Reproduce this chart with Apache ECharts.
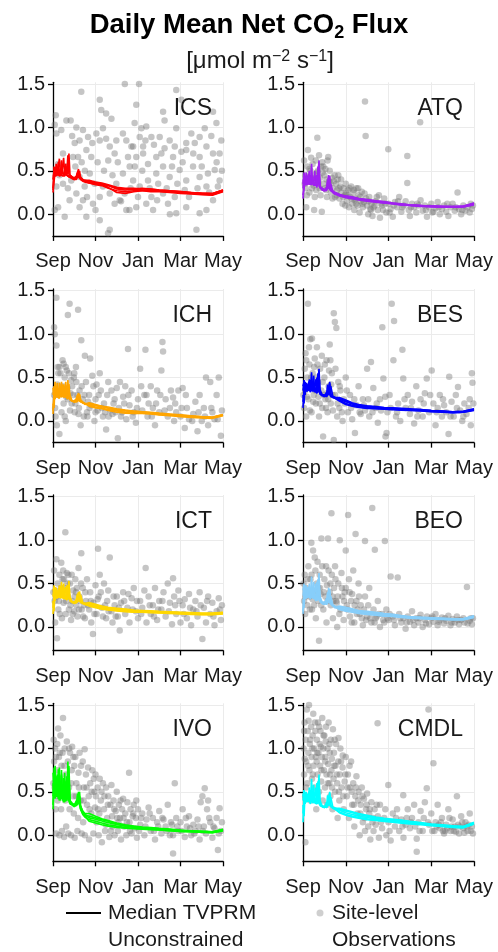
<!DOCTYPE html>
<html>
<head>
<meta charset="utf-8">
<script src="https://cdn.jsdelivr.net/npm/echarts@6/dist/echarts.min.js"></script>
<style>
  html, body { margin: 0; padding: 0; background: #ffffff; }
  #chart { width: 498px; height: 952px; }
</style>
</head>
<body>
<div id="chart"></div>
<script>
// Sites, in panel order (left-to-right, top-to-bottom)
const siteNames = ['ICS', 'ATQ', 'ICH', 'BES', 'ICT', 'BEO', 'IVO', 'CMDL'];
const siteColors = ['#ff0000', '#a020f0', '#ffa500', '#0000ff', '#ffd700', '#87cefa', '#00ff00', '#00ffff'];

// x axis: months since 1 September
const monthTicks = [0, 2, 4, 6, 8];
const monthLabels = ['Sep', 'Nov', 'Jan', 'Mar', 'May'];
// y axis: flux in umol m-2 s-1
const fluxTicks = [0, 0.5, 1.0, 1.5];
const rowFluxMin = [-0.25, -0.25, -0.27, -0.3];
const fluxMax = 1.52;

// sample months shared by every model trace
const lineMonths = [0, 0.05, 0.1, 0.15, 0.2, 0.25, 0.3, 0.35, 0.4, 0.45, 0.5, 0.55, 0.6, 0.65, 0.7, 0.75, 0.8,
  0.9, 1.0, 1.1, 1.15, 1.2, 1.25, 1.3, 1.4, 1.5,
  1.7, 2.0, 2.3, 2.6, 3.0, 3.4, 3.8, 4.2, 4.6, 5.0, 5.5, 6.0, 6.5, 7.0, 7.5, 8.0];

// ---- median TVPRM unconstrained traces (one array per ensemble member) ----
const tvprmICS = [
  [0.30,0.42,0.46,0.44,0.50,0.47,0.45,0.52,0.48,0.46,0.47,0.45,0.50,0.47,0.68,0.46,0.44, 0.43,0.42,0.44,0.43,0.52,0.44,0.42,0.40,0.39, 0.39,0.37,0.36,0.34,0.31,0.30,0.30,0.29,0.29,0.28,0.27,0.26,0.25,0.245,0.24,0.28],
  [0.25,0.38,0.48,0.45,0.55,0.46,0.44,0.46,0.62,0.47,0.45,0.46,0.44,0.45,0.46,0.44,0.43, 0.42,0.41,0.42,0.48,0.43,0.41,0.40,0.38,0.37, 0.36,0.34,0.33,0.30,0.27,0.26,0.27,0.27,0.26,0.26,0.25,0.24,0.235,0.225,0.22,0.26],
  [0.40,0.50,0.45,0.58,0.47,0.45,0.44,0.46,0.45,0.44,0.65,0.46,0.44,0.45,0.44,0.43,0.44, 0.42,0.40,0.41,0.42,0.45,0.50,0.42,0.39,0.38, 0.37,0.36,0.35,0.33,0.29,0.28,0.29,0.28,0.28,0.27,0.265,0.255,0.245,0.235,0.235,0.275],
  [0.45,0.47,0.44,0.46,0.45,0.60,0.46,0.44,0.45,0.47,0.45,0.44,0.58,0.45,0.44,0.43,0.42, 0.41,0.40,0.40,0.41,0.47,0.42,0.40,0.39,0.38, 0.36,0.35,0.34,0.31,0.25,0.24,0.26,0.27,0.27,0.265,0.26,0.25,0.24,0.23,0.225,0.265],
  [0.28,0.55,0.46,0.44,0.46,0.44,0.64,0.47,0.45,0.44,0.46,0.44,0.45,0.55,0.46,0.70,0.45, 0.43,0.41,0.42,0.44,0.49,0.43,0.41,0.40,0.39, 0.38,0.36,0.35,0.33,0.30,0.29,0.29,0.30,0.29,0.28,0.27,0.26,0.25,0.24,0.235,0.28]
];
const tvprmATQ = [
  [0.18,0.35,0.42,0.38,0.44,0.36,0.34,0.38,0.35,0.33,0.36,0.33,0.40,0.33,0.32,0.62,0.30, 0.28,0.27,0.29,0.28,0.45,0.29,0.27,0.25,0.24, 0.22,0.21,0.20,0.18,0.165,0.155,0.14,0.125,0.115,0.105,0.10,0.095,0.09,0.085,0.09,0.12],
  [0.30,0.45,0.36,0.48,0.37,0.35,0.50,0.36,0.34,0.35,0.33,0.34,0.32,0.33,0.55,0.32,0.30, 0.29,0.28,0.29,0.40,0.30,0.28,0.27,0.26,0.25, 0.23,0.20,0.185,0.17,0.155,0.145,0.13,0.12,0.11,0.10,0.095,0.09,0.085,0.08,0.085,0.11],
  [0.40,0.38,0.34,0.36,0.34,0.46,0.35,0.33,0.34,0.44,0.33,0.32,0.34,0.31,0.33,0.45,0.31, 0.29,0.28,0.27,0.29,0.38,0.30,0.35,0.26,0.24, 0.21,0.20,0.19,0.175,0.16,0.15,0.135,0.125,0.115,0.105,0.10,0.09,0.085,0.085,0.09,0.125],
  [0.22,0.30,0.40,0.37,0.35,0.38,0.34,0.45,0.36,0.34,0.35,0.50,0.34,0.32,0.35,0.40,0.31, 0.28,0.27,0.28,0.27,0.33,0.40,0.28,0.25,0.23, 0.215,0.19,0.18,0.165,0.15,0.14,0.13,0.12,0.105,0.10,0.09,0.085,0.08,0.08,0.085,0.11],
  [0.35,0.48,0.37,0.34,0.40,0.35,0.33,0.35,0.58,0.35,0.34,0.36,0.33,0.45,0.34,0.52,0.32, 0.30,0.28,0.31,0.29,0.36,0.44,0.30,0.27,0.25, 0.225,0.21,0.195,0.18,0.17,0.155,0.145,0.13,0.12,0.11,0.10,0.095,0.09,0.09,0.095,0.13]
];
const tvprmICH = [
  [0.08,0.35,0.25,0.40,0.28,0.30,0.26,0.36,0.27,0.25,0.42,0.28,0.26,0.30,0.47,0.26,0.24, 0.23,0.22,0.26,0.24,0.32,0.23,0.25,0.21,0.20, 0.20,0.18,0.17,0.15,0.13,0.12,0.11,0.105,0.095,0.085,0.075,0.065,0.055,0.045,0.04,0.07],
  [0.20,0.15,0.42,0.30,0.35,0.28,0.44,0.29,0.27,0.38,0.28,0.26,0.45,0.28,0.26,0.43,0.25, 0.23,0.22,0.23,0.30,0.24,0.26,0.22,0.21,0.20, 0.17,0.15,0.14,0.12,0.10,0.09,0.085,0.085,0.08,0.07,0.06,0.05,0.04,0.035,0.03,0.06],
  [0.30,0.40,0.26,0.30,0.44,0.29,0.27,0.40,0.28,0.26,0.33,0.27,0.25,0.40,0.27,0.25,0.30, 0.23,0.22,0.22,0.25,0.28,0.31,0.24,0.21,0.19, 0.21,0.19,0.17,0.16,0.14,0.125,0.115,0.105,0.10,0.09,0.08,0.07,0.06,0.05,0.045,0.075],
  [0.12,0.28,0.36,0.27,0.31,0.38,0.28,0.30,0.45,0.28,0.26,0.30,0.35,0.26,0.32,0.38,0.24, 0.23,0.22,0.24,0.23,0.27,0.25,0.23,0.21,0.20, 0.18,0.16,0.15,0.13,0.115,0.10,0.095,0.09,0.085,0.075,0.07,0.06,0.05,0.04,0.035,0.065],
  [0.38,0.30,0.45,0.29,0.33,0.27,0.32,0.28,0.36,0.42,0.27,0.25,0.29,0.27,0.25,0.36,0.26, 0.23,0.23,0.25,0.22,0.25,0.30,0.24,0.22,0.20, 0.19,0.175,0.165,0.145,0.125,0.115,0.105,0.10,0.09,0.08,0.07,0.06,0.05,0.045,0.04,0.07]
];
const tvprmBES = [
  [0.15,0.38,0.30,0.44,0.34,0.36,0.46,0.34,0.33,0.40,0.34,0.32,0.48,0.33,0.32,0.60,0.31, 0.30,0.28,0.33,0.30,0.38,0.45,0.30,0.28,0.27, 0.26,0.23,0.20,0.18,0.17,0.16,0.15,0.145,0.14,0.135,0.13,0.12,0.115,0.105,0.11,0.135],
  [0.30,0.20,0.45,0.36,0.42,0.35,0.34,0.47,0.35,0.33,0.52,0.34,0.32,0.40,0.55,0.33,0.31, 0.30,0.29,0.30,0.42,0.31,0.36,0.29,0.27,0.26, 0.23,0.19,0.17,0.155,0.145,0.14,0.135,0.13,0.125,0.12,0.115,0.105,0.10,0.095,0.10,0.12],
  [0.40,0.45,0.33,0.38,0.34,0.44,0.36,0.33,0.46,0.34,0.32,0.37,0.33,0.50,0.34,0.32,0.36, 0.30,0.30,0.29,0.32,0.36,0.32,0.40,0.28,0.27, 0.27,0.24,0.21,0.19,0.175,0.165,0.155,0.15,0.145,0.14,0.13,0.12,0.115,0.105,0.11,0.14],
  [0.22,0.32,0.42,0.35,0.33,0.40,0.48,0.35,0.34,0.36,0.43,0.33,0.36,0.32,0.45,0.40,0.31, 0.29,0.28,0.29,0.28,0.33,0.31,0.28,0.27,0.26, 0.24,0.20,0.18,0.165,0.155,0.145,0.14,0.135,0.13,0.125,0.12,0.11,0.105,0.095,0.10,0.125],
  [0.35,0.47,0.38,0.34,0.41,0.35,0.33,0.38,0.56,0.35,0.33,0.36,0.34,0.32,0.36,0.52,0.32, 0.30,0.29,0.28,0.30,0.31,0.43,0.31,0.28,0.27, 0.25,0.22,0.195,0.175,0.16,0.15,0.145,0.14,0.135,0.13,0.125,0.115,0.11,0.10,0.105,0.13]
];
const tvprmICT = [
  [0.15,0.40,0.30,0.45,0.33,0.35,0.44,0.33,0.32,0.38,0.32,0.31,0.46,0.32,0.31,0.53,0.30, 0.29,0.28,0.32,0.30,0.40,0.30,0.29,0.28,0.27, 0.27,0.25,0.23,0.22,0.21,0.20,0.19,0.185,0.18,0.175,0.17,0.165,0.16,0.155,0.155,0.165],
  [0.30,0.18,0.46,0.35,0.42,0.34,0.33,0.47,0.34,0.32,0.50,0.33,0.31,0.38,0.48,0.32,0.30, 0.29,0.28,0.29,0.38,0.30,0.34,0.29,0.27,0.26, 0.24,0.22,0.205,0.195,0.185,0.175,0.17,0.17,0.165,0.16,0.155,0.15,0.145,0.14,0.14,0.15],
  [0.42,0.45,0.32,0.37,0.33,0.43,0.34,0.32,0.44,0.33,0.31,0.36,0.32,0.48,0.33,0.31,0.35, 0.29,0.29,0.28,0.31,0.35,0.31,0.37,0.28,0.27, 0.28,0.26,0.24,0.225,0.215,0.205,0.195,0.19,0.185,0.18,0.175,0.17,0.165,0.16,0.16,0.17],
  [0.22,0.33,0.44,0.34,0.32,0.39,0.48,0.34,0.33,0.35,0.42,0.32,0.35,0.31,0.44,0.38,0.30, 0.28,0.27,0.28,0.27,0.32,0.30,0.28,0.27,0.26, 0.25,0.23,0.215,0.20,0.19,0.18,0.175,0.175,0.17,0.165,0.16,0.155,0.15,0.145,0.145,0.155],
  [0.35,0.48,0.37,0.33,0.40,0.34,0.32,0.37,0.52,0.34,0.32,0.35,0.33,0.31,0.35,0.50,0.31, 0.29,0.28,0.28,0.29,0.30,0.41,0.30,0.28,0.27, 0.26,0.24,0.225,0.21,0.20,0.19,0.185,0.18,0.175,0.17,0.165,0.16,0.155,0.15,0.15,0.16]
];
const tvprmBEO = [
  [0.18,0.45,0.33,0.48,0.36,0.34,0.47,0.33,0.31,0.42,0.32,0.30,0.50,0.32,0.30,0.62,0.29, 0.27,0.26,0.33,0.29,0.45,0.28,0.26,0.24,0.23, 0.23,0.215,0.20,0.18,0.17,0.16,0.15,0.14,0.125,0.115,0.11,0.105,0.10,0.095,0.095,0.125],
  [0.32,0.22,0.48,0.36,0.46,0.35,0.33,0.45,0.34,0.32,0.52,0.33,0.30,0.40,0.55,0.31,0.29, 0.28,0.27,0.29,0.40,0.30,0.40,0.27,0.25,0.24, 0.20,0.18,0.17,0.155,0.145,0.135,0.125,0.12,0.11,0.10,0.095,0.09,0.085,0.08,0.08,0.11],
  [0.42,0.50,0.32,0.36,0.33,0.45,0.35,0.32,0.46,0.33,0.31,0.37,0.32,0.52,0.32,0.30,0.35, 0.28,0.29,0.27,0.32,0.37,0.29,0.35,0.25,0.23, 0.24,0.225,0.21,0.19,0.18,0.17,0.155,0.145,0.13,0.12,0.11,0.105,0.10,0.095,0.095,0.13],
  [0.15,0.34,0.44,0.35,0.33,0.40,0.50,0.35,0.33,0.34,0.44,0.32,0.35,0.31,0.46,0.40,0.30, 0.27,0.26,0.28,0.27,0.34,0.32,0.27,0.24,0.22, 0.21,0.19,0.18,0.165,0.15,0.14,0.13,0.125,0.115,0.105,0.10,0.095,0.09,0.085,0.085,0.115],
  [0.36,0.48,0.39,0.33,0.42,0.34,0.32,0.37,0.58,0.34,0.32,0.35,0.33,0.30,0.35,0.52,0.31, 0.28,0.27,0.26,0.28,0.29,0.44,0.29,0.25,0.23, 0.22,0.20,0.19,0.17,0.16,0.15,0.14,0.13,0.12,0.11,0.105,0.10,0.095,0.09,0.09,0.12]
];
const tvprmIVO = [
  [0.35,0.78,0.55,0.45,0.70,0.50,0.42,0.62,0.48,0.40,0.55,0.72,0.45,0.40,0.85,0.42,0.38, 0.36,0.34,0.40,0.36,0.50,0.35,0.30,0.26,0.24, 0.22,0.20,0.18,0.16,0.13,0.11,0.10,0.09,0.085,0.075,0.065,0.055,0.05,0.045,0.04,0.065],
  [0.60,0.45,0.80,0.52,0.45,0.65,0.47,0.40,0.75,0.45,0.38,0.50,0.42,0.68,0.44,0.39,0.36, 0.35,0.33,0.35,0.48,0.36,0.40,0.30,0.25,0.22, 0.16,0.14,0.12,0.105,0.09,0.08,0.075,0.07,0.065,0.06,0.05,0.045,0.04,0.035,0.03,0.05],
  [0.30,0.55,0.42,0.68,0.50,0.42,0.78,0.48,0.42,0.52,0.44,0.38,0.62,0.42,0.55,0.80,0.40, 0.37,0.35,0.34,0.37,0.45,0.38,0.33,0.28,0.25, 0.25,0.22,0.19,0.17,0.14,0.12,0.105,0.095,0.09,0.08,0.07,0.06,0.05,0.045,0.04,0.07],
  [0.72,0.50,0.62,0.44,0.58,0.46,0.40,0.52,0.70,0.44,0.40,0.46,0.55,0.40,0.48,0.62,0.37, 0.35,0.33,0.36,0.34,0.42,0.45,0.30,0.24,0.21, 0.18,0.16,0.14,0.12,0.105,0.09,0.08,0.075,0.07,0.06,0.055,0.045,0.04,0.035,0.03,0.055],
  [0.45,0.65,0.48,0.58,0.44,0.76,0.52,0.44,0.50,0.42,0.66,0.44,0.39,0.56,0.42,0.70,0.38, 0.36,0.35,0.38,0.35,0.38,0.50,0.34,0.27,0.23, 0.20,0.185,0.165,0.145,0.125,0.105,0.09,0.085,0.08,0.07,0.06,0.05,0.045,0.04,0.035,0.06]
];
const tvprmCMDL = [
  [0.15,0.45,0.36,0.50,0.40,0.38,0.50,0.38,0.36,0.45,0.37,0.35,0.55,0.36,0.35,0.70,0.34, 0.33,0.32,0.38,0.34,0.42,0.50,0.34,0.32,0.31, 0.30,0.28,0.26,0.24,0.22,0.20,0.19,0.18,0.17,0.155,0.14,0.125,0.115,0.105,0.10,0.145],
  [0.35,0.22,0.50,0.40,0.48,0.39,0.37,0.52,0.38,0.36,0.58,0.37,0.35,0.45,0.62,0.36,0.34, 0.33,0.32,0.33,0.46,0.35,0.40,0.33,0.31,0.30, 0.26,0.23,0.21,0.195,0.18,0.17,0.16,0.15,0.14,0.13,0.12,0.11,0.10,0.09,0.085,0.13],
  [0.45,0.52,0.37,0.42,0.38,0.48,0.39,0.36,0.50,0.37,0.35,0.42,0.36,0.60,0.37,0.35,0.40, 0.33,0.33,0.32,0.36,0.40,0.36,0.44,0.32,0.31, 0.31,0.29,0.27,0.25,0.23,0.21,0.195,0.185,0.175,0.16,0.145,0.13,0.12,0.11,0.10,0.15],
  [0.25,0.38,0.48,0.39,0.37,0.44,0.55,0.39,0.37,0.40,0.50,0.37,0.40,0.36,0.52,0.45,0.35, 0.33,0.32,0.33,0.32,0.38,0.35,0.33,0.31,0.30, 0.27,0.24,0.22,0.205,0.19,0.18,0.17,0.16,0.15,0.14,0.13,0.115,0.105,0.095,0.09,0.13],
  [0.40,0.52,0.42,0.38,0.46,0.39,0.37,0.42,0.65,0.39,0.37,0.40,0.38,0.36,0.40,0.58,0.36, 0.34,0.33,0.32,0.34,0.35,0.48,0.35,0.32,0.31, 0.29,0.26,0.24,0.22,0.205,0.19,0.18,0.17,0.16,0.145,0.135,0.12,0.11,0.10,0.095,0.14]
];

// ---- site-level daily observations: [months since 1 Sep, flux] ----
const obsICS = [[0.13,1.14],[0.08,1.03],[0.16,0.93],[0.39,0.97],[0.63,1.08],[0.83,1.08],[1.33,1.41],[1.1,1.0],[1.25,0.85],[1.02,0.82],[1.57,0.74],[1.8,0.66],[2.2,1.32],[2.27,1.2],[2.5,1.16],[2.75,1.1],[2.35,0.99],[2.04,0.93],[2.2,0.85],[2.5,0.87],[2.67,0.78],[2.9,0.7],[3.38,1.5],[4.05,1.5],[3.92,1.26],[3.84,1.05],[4.16,0.99],[4.39,1.01],[4.63,0.89],[4.08,0.89],[3.77,0.78],[3.53,0.66],[3.92,0.66],[4.24,0.7],[4.47,0.58],[4.86,0.66],[5.18,1.18],[5.25,1.08],[5.49,0.85],[5.73,0.78],[5.8,0.99],[5.8,1.43],[6.04,1.32],[6.51,0.93],[6.67,0.82],[6.27,0.74],[6.9,0.66],[7.14,0.99],[7.53,1.18],[7.69,1.05],[7.84,0.7],[7.61,0.51],[7.29,0.47],[7.76,0.32],[7.53,0.16],[7.22,0.05],[6.9,0.01],[6.27,0.08],[5.8,0.01],[5.41,0.12],[4.9,0.16],[4.71,0.05],[4.39,0.12],[3.92,0.08],[3.45,0.05],[3.14,0.16],[2.67,-0.18],[2.59,-0.22],[2.2,-0.07],[1.88,0.12],[1.57,-0.03],[1.41,0.16],[1.1,0.24],[0.78,0.16],[0.55,-0.03],[0.24,0.08],[0.08,0.05],[0.16,0.32],[0.47,0.35],[0.86,0.39],[1.25,0.43],[1.73,0.47],[1.49,0.32],[1.96,0.35],[2.35,0.32],[2.67,0.24],[2.98,0.35],[3.29,0.47],[3.61,0.55],[3.77,0.39],[4.08,0.32],[4.47,0.39],[4.86,0.47],[5.18,0.55],[5.49,0.43],[5.96,0.51],[6.27,0.39],[6.59,0.55],[6.9,0.43],[7.22,0.32],[7.84,0.39],[6.2,0.28],[5.73,0.2],[5.18,0.24],[4.63,0.2],[3.37,0.24],[2.9,0.12],[2.2,0.2],[1.25,0.08],[6.75,-0.18],[3.69,0.78],[4.24,0.78],[2.98,0.85],[3.29,0.93],[1.18,0.66],[0.47,0.7],[0.24,0.58],[0.94,0.66],[1.41,0.97],[1.65,0.89],[5.65,0.66],[6.27,0.82],[7.22,0.78],[7.53,0.7],[7.92,0.85],[6.9,0.89],[5.25,0.76],[6.04,0.72],[5.02,0.89],
  [0.3,0.45],[0.6,0.55],[0.7,0.3],[0.9,0.9],[1.05,0.55],[1.35,0.6],[1.6,0.2],[1.85,0.82],[2.1,0.6],[2.4,0.5],[2.6,0.62],[2.8,0.45],[3.05,0.6],[3.2,0.15],[3.45,0.85],[3.65,0.3],[3.85,0.55],[4.0,0.2],[4.2,0.5],[4.35,0.85],[4.55,0.3],[4.75,0.8],[4.95,0.35],[5.1,0.7],[5.35,0.3],[5.6,0.55],[5.85,0.35],[6.1,0.6],[6.4,0.2],[6.6,0.7],[6.8,0.3],[7.0,0.55],[7.35,0.25],[7.45,0.9],[7.7,0.6],[7.95,0.5],[1.5,0.5],[2.0,0.05],[3.6,0.05],[5.5,0.0]];

const obsATQ = [[0.05,0.62],[0.1,0.45],[0.12,0.3],[0.15,0.08],[0.2,0.55],[0.23,0.74],[0.25,0.38],[0.3,0.25],[0.35,0.5],[0.38,0.65],[0.4,0.42],[0.45,0.58],[0.5,0.33],[0.52,0.05],[0.55,0.45],[0.6,0.62],[0.62,0.28],[0.67,0.88],[0.7,0.5],[0.72,0.36],[0.75,0.68],[0.8,0.42],[0.82,0.22],[0.85,0.55],[0.88,0.03],[0.9,0.6],[0.95,0.35],[1.0,0.45],[1.05,0.52],[1.08,0.28],[1.1,0.4],[1.15,0.62],[1.18,0.66],[1.2,0.33],[1.25,0.5],[1.3,0.25],[1.35,0.42],[1.4,0.3],[1.45,0.38],[1.5,0.2],[1.55,0.35],[1.6,0.28],[1.65,0.45],[1.7,0.18],[1.75,0.32],[1.8,0.25],[1.85,0.12],[1.9,0.3],[1.95,0.22],[2.0,0.35],[2.05,0.15],[2.1,0.28],[2.15,0.08],[2.2,0.2],[2.25,0.32],[2.3,0.12],[2.35,0.25],[2.4,0.05],[2.45,0.18],[2.5,0.3],[2.55,0.1],[2.6,0.22],[2.65,0.02],[2.7,0.15],[2.75,0.26],[2.8,0.08],[2.9,1.3],[2.93,0.9],[2.95,0.18],[3.0,0.1],[3.05,0.0],[3.1,0.2],[3.2,0.12],[3.25,-0.02],[3.3,0.08],[3.4,0.15],[3.5,0.05],[3.55,0.22],[3.6,-0.04],[3.7,0.1],[3.8,0.18],[3.9,0.02],[3.99,0.75],[4.0,0.12],[4.1,0.06],[4.2,-0.03],[4.3,0.14],[4.4,0.08],[4.5,0.2],[4.6,0.03],[4.7,0.1],[4.8,0.15],[4.88,0.67],[4.88,0.36],[4.95,0.05],[5.0,-0.02],[5.1,0.12],[5.2,0.08],[5.3,0.02],[5.4,0.1],[5.48,1.06],[5.5,0.16],[5.6,0.04],[5.7,0.1],[5.8,-0.03],[5.9,0.08],[6.0,0.12],[6.1,0.03],[6.2,0.07],[6.3,0.14],[6.4,0.0],[6.5,0.06],[6.6,0.1],[6.7,0.03],[6.8,-0.02],[6.9,0.08],[7.0,0.12],[7.1,0.04],[7.23,0.25],[7.3,0.06],[7.4,0.0],[7.5,0.1],[7.6,0.04],[7.7,0.08],[7.8,0.02],[7.9,0.06],[7.95,0.1],[0.3,0.52],[0.58,0.4],[0.92,0.48],[1.22,0.38],[1.62,0.4],[2.02,0.24],[2.42,0.16],[2.85,0.14],[3.15,0.06],[3.65,0.12],
  [0.08,0.35],[0.18,0.22],[0.28,0.42],[0.42,0.3],[0.55,0.2],[0.65,0.48],[0.78,0.3],[0.95,0.55],[1.02,0.3],[1.12,0.2],[1.28,0.35],[1.38,0.18],[1.48,0.45],[1.58,0.22],[1.68,0.3],[1.78,0.4],[1.88,0.2],[1.98,0.1],[2.08,0.22],[2.18,0.3],[2.28,0.18],[2.38,0.28],[2.48,0.12],[2.58,0.3],[2.68,0.2],[2.78,0.12],[2.88,0.24],[3.08,0.15],[3.18,0.05],[3.35,0.1],[3.45,0.2],[3.75,0.05],[3.85,0.12],[4.05,0.02],[4.25,0.1],[4.45,0.15],[4.65,0.08],[5.05,0.08],[5.35,0.12],[5.75,0.05],[6.05,0.02],[6.35,0.08],[6.75,0.12],[7.15,0.08],[7.45,0.05],[7.85,0.12]];

const obsICH = [[0.16,1.42],[0.78,1.35],[0.7,1.22],[1.18,1.28],[1.33,0.93],[0.08,1.0],[0.16,0.87],[0.05,1.08],[0.3,0.62],[0.35,0.55],[0.45,0.7],[0.5,0.66],[0.55,0.5],[0.6,0.62],[0.65,0.58],[0.75,0.55],[0.85,0.47],[0.9,0.4],[0.2,0.42],[0.25,0.3],[0.1,0.15],[0.12,0.05],[0.18,-0.05],[0.3,-0.15],[0.4,0.1],[0.5,0.2],[0.6,0.0],[0.7,0.25],[0.8,0.12],[0.95,0.3],[1.0,0.55],[1.05,0.2],[1.1,0.45],[1.2,0.08],[1.25,0.35],[1.3,-0.05],[1.4,0.25],[1.5,0.75],[1.55,0.45],[1.6,0.1],[1.7,0.3],[1.75,0.72],[1.8,0.18],[1.9,0.4],[1.95,0.0],[2.0,0.25],[2.1,0.12],[2.2,0.55],[2.25,0.35],[2.35,0.05],[2.4,0.2],[2.5,-0.1],[2.55,0.3],[2.6,0.45],[2.7,0.12],[2.8,0.08],[2.9,0.25],[3.0,0.38],[3.05,-0.2],[3.1,0.15],[3.2,0.05],[3.3,0.28],[3.4,0.4],[3.45,0.02],[3.53,0.83],[3.6,0.18],[3.7,0.35],[3.8,0.1],[3.9,-0.02],[4.0,0.25],[4.1,0.6],[4.2,0.12],[4.3,0.3],[4.35,0.82],[4.45,0.05],[4.5,0.2],[4.6,0.4],[4.7,0.15],[4.8,-0.05],[4.9,0.35],[5.0,0.1],[5.1,0.58],[5.15,0.91],[5.18,0.8],[5.3,0.25],[5.4,0.05],[5.5,0.15],[5.65,0.27],[5.7,0.0],[5.8,0.1],[5.9,0.35],[6.0,0.05],[6.1,0.38],[6.2,-0.08],[6.3,0.15],[6.4,0.02],[6.6,0.08],[6.7,0.22],[6.8,-0.12],[6.9,0.3],[7.0,0.0],[7.1,0.15],[7.2,0.5],[7.3,-0.05],[7.4,0.45],[7.5,0.1],[7.6,0.02],[7.7,0.3],[7.8,0.5],[7.9,-0.17],[7.95,0.12],[0.22,0.62],[0.42,0.36],[0.62,0.28],[0.82,0.32],[1.02,0.1],[1.15,0.3],[1.45,0.05],[1.65,0.22],[2.05,0.42],[2.45,0.1],[2.85,0.2],[3.25,0.1],
  [0.05,0.3],[0.25,0.55],[0.45,0.4],[0.55,0.05],[0.68,0.38],[0.88,0.2],[0.98,0.5],[1.08,0.62],[1.22,0.15],[1.35,0.4],[1.48,0.3],[1.62,0.05],[1.72,0.15],[1.85,0.52],[2.0,0.1],[2.15,0.3],[2.3,0.15],[2.62,0.05],[2.75,0.35],[2.95,0.1],[3.15,0.45],[3.35,0.2],[3.55,0.3],[3.75,0.05],[3.95,0.15],[4.15,0.4],[4.4,0.3],[4.65,0.05],[4.85,0.2],[5.05,0.3],[5.25,0.12],[5.55,0.35],[5.75,0.2],[6.05,0.15],[6.25,0.3],[6.55,0.0],[6.85,0.1],[7.15,0.05],[7.45,0.15],[7.75,0.02]];

const obsBES = [[0.05,0.15],[0.08,0.6],[0.1,0.35],[0.12,0.78],[0.15,0.05],[0.2,0.5],[0.23,1.35],[0.25,0.25],[0.3,0.65],[0.34,0.94],[0.35,0.4],[0.4,0.1],[0.45,0.55],[0.5,0.3],[0.55,0.72],[0.6,0.2],[0.65,0.85],[0.7,0.45],[0.75,0.05],[0.8,0.6],[0.85,0.35],[0.9,0.15],[0.94,-0.18],[1.0,0.5],[1.05,0.25],[1.1,0.7],[1.15,0.1],[1.2,0.4],[1.25,0.88],[1.3,0.2],[1.35,0.55],[1.44,1.24],[1.44,-0.22],[1.49,1.14],[1.5,0.3],[1.56,1.07],[1.6,0.05],[1.65,0.45],[1.7,0.15],[1.75,0.35],[1.85,0.0],[1.9,0.25],[2.0,0.5],[2.1,0.1],[2.2,0.3],[2.3,0.02],[2.43,-0.14],[2.5,0.18],[2.6,0.4],[2.7,0.08],[2.8,0.25],[2.9,0.12],[3.0,0.6],[3.1,0.05],[3.18,0.68],[3.29,0.38],[3.4,0.15],[3.5,-0.02],[3.6,0.25],[3.71,1.08],[3.76,0.49],[3.86,-0.18],[3.91,-0.14],[3.95,0.1],[4.05,0.3],[4.15,1.35],[4.23,0.7],[4.26,1.15],[4.35,0.05],[4.45,0.2],[4.55,0.0],[4.65,0.82],[4.69,0.49],[4.8,0.15],[4.9,0.3],[5.0,0.08],[5.1,0.22],[5.2,-0.03],[5.3,0.4],[5.4,0.12],[5.5,0.25],[5.6,0.05],[5.7,0.32],[5.79,0.49],[5.9,0.1],[6.02,0.58],[6.1,0.2],[6.2,-0.05],[6.3,0.15],[6.4,0.3],[6.5,0.05],[6.6,0.18],[6.7,0.1],[6.81,-0.15],[6.84,0.51],[6.95,0.22],[7.05,0.05],[7.15,0.3],[7.25,0.39],[7.35,0.12],[7.45,0.0],[7.55,0.2],[7.65,0.08],[7.75,0.15],[7.85,-0.05],[7.9,0.55],[7.93,0.44],[7.97,0.2],[0.15,0.7],[0.28,0.85],[0.42,0.95],[0.52,0.62],[0.62,0.5],[0.72,0.28],[0.88,0.75],[1.02,0.65],[1.12,0.32],[1.22,0.58],[1.32,0.42],[1.4,0.12],
  [0.02,0.3],[0.18,0.28],[0.32,0.12],[0.38,0.5],[0.48,0.22],[0.58,0.35],[0.68,0.65],[0.78,0.2],[0.92,0.45],[0.98,0.3],[1.08,0.15],[1.18,0.25],[1.28,0.7],[1.38,0.3],[1.52,0.6],[1.62,0.2],[1.72,0.4],[1.82,0.1],[1.95,0.2],[2.05,0.35],[2.25,0.15],[2.4,0.25],[2.65,0.1],[2.85,0.18],[3.05,0.25],[3.25,0.1],[3.45,0.2],[3.65,0.12],[3.85,0.28],[4.1,0.15],[4.4,0.1],[4.75,0.25],[5.05,0.15],[5.35,0.05],[5.65,0.2],[5.95,0.3],[6.25,0.1],[6.55,0.25],[6.9,0.05],[7.2,0.15],[7.5,0.05],[7.8,0.25]];

const obsICT = [[0.05,0.65],[0.08,0.3],[0.1,0.05],[0.16,0.78],[0.19,-0.13],[0.22,0.5],[0.25,0.2],[0.3,0.6],[0.35,0.38],[0.39,0.74],[0.42,0.1],[0.45,0.55],[0.5,0.28],[0.55,0.45],[0.58,1.09],[0.6,0.15],[0.65,0.62],[0.7,0.35],[0.75,0.2],[0.8,0.5],[0.85,0.08],[0.9,0.3],[0.95,0.42],[1.0,0.18],[1.05,0.55],[1.1,0.25],[1.15,0.12],[1.2,0.68],[1.25,0.35],[1.33,0.85],[1.35,0.2],[1.4,0.45],[1.5,0.1],[1.55,0.3],[1.6,0.55],[1.7,0.2],[1.75,0.4],[1.8,0.05],[1.88,-0.08],[1.9,0.28],[2.0,0.48],[2.05,0.15],[2.12,0.9],[2.15,0.35],[2.2,0.6],[2.3,0.22],[2.4,0.5],[2.5,0.1],[2.55,0.3],[2.6,0.42],[2.67,0.8],[2.75,0.18],[2.8,0.05],[2.9,0.25],[3.0,0.35],[3.05,0.12],[3.14,-0.04],[3.2,0.28],[3.3,0.4],[3.4,0.15],[3.5,0.22],[3.6,0.05],[3.7,0.33],[3.8,0.45],[3.9,0.18],[4.0,0.1],[4.1,0.3],[4.2,0.22],[4.36,0.68],[4.4,0.05],[4.5,0.35],[4.6,0.15],[4.7,0.25],[4.8,0.45],[4.9,0.08],[5.0,0.3],[5.1,0.2],[5.2,0.4],[5.3,0.12],[5.4,0.5],[5.5,0.28],[5.6,0.03],[5.65,0.56],[5.7,0.35],[5.8,0.15],[5.9,0.42],[6.0,0.05],[6.1,0.25],[6.2,0.32],[6.3,0.1],[6.4,0.38],[6.5,0.02],[6.6,0.2],[6.7,0.3],[6.8,0.12],[6.9,0.4],[7.03,-0.14],[7.1,0.22],[7.2,0.05],[7.3,0.35],[7.4,0.15],[7.5,0.28],[7.6,0.02],[7.7,0.18],[7.8,0.33],[7.9,0.08],[7.95,0.25],[0.12,0.42],[0.28,0.3],[0.48,0.65],[0.68,0.5],[0.88,0.6],[1.08,0.4],[1.28,0.3],[1.45,0.25],
  [0.02,0.4],[0.18,0.35],[0.32,0.15],[0.38,0.45],[0.52,0.55],[0.62,0.3],[0.72,0.6],[0.82,0.25],[0.92,0.15],[1.02,0.35],[1.12,0.45],[1.22,0.2],[1.32,0.5],[1.42,0.12],[1.52,0.4],[1.65,0.25],[1.78,0.3],[1.95,0.15],[2.1,0.32],[2.25,0.4],[2.35,0.12],[2.45,0.25],[2.62,0.18],[2.85,0.35],[2.95,0.12],[3.1,0.22],[3.35,0.3],[3.55,0.38],[3.75,0.2],[3.95,0.3],[4.15,0.15],[4.3,0.42],[4.55,0.25],[4.75,0.12],[4.95,0.2],[5.15,0.3],[5.45,0.18],[5.75,0.25],[5.95,0.3],[6.15,0.15],[6.45,0.22],[6.75,0.18],[6.95,0.25],[7.25,0.3],[7.55,0.12],[7.85,0.2]];

const obsBEO = [[0.05,0.3],[0.08,0.6],[0.1,0.15],[0.15,0.45],[0.2,0.25],[0.25,0.7],[0.3,0.35],[0.35,0.55],[0.39,0.97],[0.42,0.2],[0.47,0.88],[0.5,0.4],[0.55,0.8],[0.58,0.65],[0.6,0.1],[0.65,0.5],[0.7,0.3],[0.75,-0.16],[0.78,0.6],[0.8,0.45],[0.86,1.02],[0.9,0.7],[0.95,0.2],[1.0,0.55],[1.05,0.35],[1.1,0.05],[1.17,1.02],[1.2,0.65],[1.25,0.4],[1.3,0.25],[1.33,1.31],[1.35,0.6],[1.4,0.1],[1.45,0.45],[1.5,0.7],[1.55,0.3],[1.6,0.0],[1.65,0.5],[1.72,1.0],[1.75,0.2],[1.8,0.62],[1.85,0.35],[1.9,0.08],[2.0,0.88],[2.0,0.45],[2.05,0.25],[2.11,1.29],[2.15,0.55],[2.2,0.12],[2.3,0.38],[2.35,0.65],[2.4,0.05],[2.46,1.07],[2.5,0.3],[2.6,0.5],[2.65,0.15],[2.7,0.25],[2.8,0.02],[2.9,0.99],[2.9,0.35],[3.0,0.12],[3.1,0.45],[3.2,0.05],[3.24,1.37],[3.3,0.2],[3.36,0.89],[3.4,0.1],[3.5,0.3],[3.6,0.0],[3.7,0.15],[3.8,0.05],[3.83,0.99],[3.9,0.2],[4.0,0.08],[4.1,0.58],[4.2,0.12],[4.3,0.02],[4.43,0.57],[4.5,0.15],[4.6,0.05],[4.7,0.1],[4.8,-0.02],[4.9,0.12],[5.0,0.06],[5.1,0.18],[5.2,0.02],[5.3,0.1],[5.4,0.05],[5.5,0.14],[5.6,0.0],[5.7,0.08],[5.8,0.12],[5.9,0.03],[6.0,0.1],[6.1,0.06],[6.2,0.15],[6.3,0.02],[6.4,0.08],[6.5,0.11],[6.6,0.04],[6.7,0.07],[6.8,0.13],[6.9,0.02],[7.0,0.09],[7.1,0.05],[7.2,0.12],[7.3,0.03],[7.4,0.08],[7.5,0.1],[7.67,0.46],[7.7,0.04],[7.8,0.07],[7.9,0.03],[7.95,0.1],[0.45,0.32],[0.62,0.42],[0.82,0.38],[1.12,0.48],[1.38,0.35],[1.58,0.28],[1.95,0.4],[2.25,0.3],[2.55,0.2],[2.95,0.08],[3.45,0.12],[3.95,0.1],
  [0.02,0.5],[0.12,0.35],[0.22,0.55],[0.32,0.2],[0.4,0.6],[0.52,0.25],[0.68,0.75],[0.72,0.45],[0.85,0.25],[0.98,0.4],[1.08,0.7],[1.15,0.3],[1.28,0.5],[1.42,0.3],[1.52,0.55],[1.62,0.35],[1.7,0.15],[1.82,0.45],[1.92,0.3],[2.08,0.2],[2.18,0.4],[2.28,0.05],[2.42,0.25],[2.52,0.15],[2.62,0.35],[2.75,0.1],[2.85,0.2],[3.05,0.25],[3.15,0.1],[3.35,0.05],[3.55,0.15],[3.75,0.08],[4.05,0.15],[4.25,0.08],[4.55,0.1],[4.85,0.05],[5.15,0.08],[5.45,0.1],[5.75,0.04],[6.05,0.12],[6.35,0.06],[6.65,0.1],[6.95,0.05],[7.25,0.08],[7.55,0.05],[7.85,0.1]];

const obsIVO = [[0.03,1.1],[0.05,0.85],[0.08,0.55],[0.1,1.0],[0.12,0.3],[0.15,0.02],[0.18,0.75],[0.2,1.05],[0.24,1.23],[0.25,0.45],[0.28,0.9],[0.3,0.0],[0.33,0.65],[0.35,1.15],[0.4,0.8],[0.42,0.05],[0.45,0.95],[0.47,1.35],[0.5,0.6],[0.52,-0.02],[0.55,1.0],[0.6,0.7],[0.62,0.1],[0.65,1.08],[0.7,0.85],[0.72,0.02],[0.75,0.55],[0.8,0.95],[0.85,0.0],[0.88,0.75],[0.9,1.02],[0.95,0.45],[1.0,0.8],[1.02,-0.03],[1.05,0.9],[1.1,0.6],[1.15,0.05],[1.2,0.72],[1.25,0.95],[1.3,0.4],[1.35,0.02],[1.4,0.85],[1.45,0.55],[1.49,0.99],[1.5,0.0],[1.55,0.7],[1.6,0.35],[1.65,0.78],[1.7,-0.05],[1.75,0.6],[1.8,0.25],[1.85,0.75],[1.9,0.02],[1.95,0.5],[2.0,0.7],[2.05,0.15],[2.1,0.55],[2.15,0.0],[2.2,0.65],[2.25,0.4],[2.3,-0.08],[2.35,0.6],[2.4,0.3],[2.45,0.05],[2.5,0.55],[2.55,0.2],[2.6,0.45],[2.65,-0.02],[2.7,0.35],[2.75,0.58],[2.8,0.1],[2.85,0.4],[2.9,0.0],[2.95,0.28],[3.0,0.5],[3.05,0.05],[3.1,0.35],[3.15,0.2],[3.2,-0.05],[3.25,0.3],[3.3,0.42],[3.35,0.1],[3.4,0.25],[3.45,0.0],[3.5,0.38],[3.58,0.72],[3.6,0.15],[3.65,0.3],[3.7,0.02],[3.75,0.22],[3.8,0.35],[3.85,0.08],[3.9,0.2],[3.95,-0.03],[4.0,0.3],[4.1,0.12],[4.2,0.25],[4.3,0.0],[4.4,0.18],[4.5,0.32],[4.6,0.05],[4.7,0.2],[4.8,-0.05],[4.9,0.15],[5.0,0.28],[5.1,0.02],[5.2,0.18],[5.3,0.1],[5.4,0.35],[5.5,0.0],[5.6,0.12],[5.65,0.0],[5.65,-0.21],[5.73,0.6],[5.8,0.2],[5.9,0.05],[6.0,0.15],[6.1,0.3],[6.2,-0.02],[6.3,0.1],[6.4,0.22],[6.5,0.0],[6.6,0.12],[6.7,0.05],[6.8,0.18],[6.9,-0.05],[7.03,0.45],[7.1,0.1],[7.14,0.54],[7.2,0.02],[7.3,0.4],[7.4,0.15],[7.5,-0.03],[7.6,0.08],[7.7,0.2],[7.76,-0.17],[7.84,0.31],[7.9,0.05],[7.95,0.15],[6.95,0.38],[7.25,0.3],[0.38,0.3],[0.58,0.4],[0.78,0.3],[0.98,0.25],[1.18,0.2],[1.42,0.15],[1.68,0.45],[1.98,0.32],[2.18,0.25],[2.48,0.12],[2.78,0.22],[3.08,0.15],
  [0.02,0.6],[0.14,0.9],[0.22,0.4],[0.32,0.95],[0.44,0.55],[0.54,0.8],[0.66,0.5],[0.76,1.0],[0.86,0.6],[0.96,0.9],[1.08,0.45],[1.22,0.55],[1.32,0.8],[1.44,0.4],[1.58,0.55],[1.72,0.3],[1.82,0.5],[1.92,0.65],[2.02,0.45],[2.12,0.3],[2.28,0.5],[2.42,0.45],[2.58,0.35],[2.72,0.05],[2.88,0.3],[3.02,0.2],[3.18,0.4],[3.32,0.2],[3.48,0.15],[3.62,0.05],[3.78,0.25],[3.92,0.4],[4.05,0.05],[4.15,0.2],[4.35,0.1],[4.55,0.25],[4.75,0.05],[4.95,0.1],[5.15,0.2],[5.35,0.05],[5.55,0.15],[5.85,0.1],[6.05,0.05],[6.25,0.2],[6.45,0.08],[6.65,0.02],[6.85,0.1],[7.05,0.05],[7.35,0.2],[7.55,0.1],[7.8,0.02]];

const obsCMDL = [[0.03,1.0],[0.05,0.7],[0.07,1.3],[0.1,0.45],[0.11,-0.08],[0.12,1.1],[0.15,0.85],[0.18,1.45],[0.2,0.6],[0.22,1.2],[0.25,0.95],[0.28,1.5],[0.3,0.75],[0.32,1.05],[0.35,0.4],[0.38,1.25],[0.4,0.9],[0.42,0.65],[0.45,1.15],[0.48,1.4],[0.5,0.8],[0.52,1.0],[0.55,0.55],[0.58,1.2],[0.6,0.9],[0.62,0.3],[0.65,1.1],[0.68,0.7],[0.7,1.3],[0.72,0.95],[0.75,0.5],[0.78,1.05],[0.8,0.8],[0.82,1.2],[0.85,0.62],[0.88,0.9],[0.9,1.35],[0.92,0.4],[0.95,1.0],[0.98,0.75],[1.0,1.15],[1.03,0.55],[1.05,0.9],[1.08,1.25],[1.1,0.7],[1.13,0.35],[1.15,1.0],[1.18,0.82],[1.2,1.3],[1.23,0.6],[1.25,0.95],[1.28,0.45],[1.3,1.1],[1.33,0.75],[1.35,0.88],[1.38,0.3],[1.4,1.22],[1.43,0.65],[1.45,0.95],[1.5,0.5],[1.52,0.8],[1.55,1.05],[1.6,0.6],[1.62,0.2],[1.65,0.85],[1.7,0.4],[1.72,0.7],[1.75,1.0],[1.8,0.55],[1.85,0.78],[1.9,0.3],[1.95,0.62],[2.0,0.9],[2.05,0.45],[2.1,0.7],[2.15,0.2],[2.2,0.55],[2.25,0.85],[2.3,0.35],[2.35,0.6],[2.4,0.1],[2.45,0.45],[2.5,0.68],[2.55,0.25],[2.6,0.5],[2.65,0.0],[2.7,0.35],[2.75,0.55],[2.8,0.15],[2.85,0.42],[2.9,0.05],[2.95,0.3],[3.0,0.48],[3.05,0.1],[3.1,0.25],[3.15,-0.05],[3.2,0.38],[3.25,0.15],[3.3,0.05],[3.35,0.3],[3.4,0.12],[3.49,1.29],[3.5,0.22],[3.55,-0.03],[3.6,0.35],[3.7,0.08],[3.8,0.2],[3.9,0.0],[3.99,0.58],[4.0,0.15],[4.1,-0.06],[4.2,0.25],[4.3,0.1],[4.4,0.3],[4.5,0.05],[4.6,0.18],[4.69,0.46],[4.7,-0.03],[4.8,0.12],[4.9,0.3],[5.0,0.08],[5.1,0.2],[5.2,0.35],[5.32,-0.04],[5.32,-0.19],[5.4,0.15],[5.5,0.28],[5.6,0.05],[5.7,0.38],[5.79,0.54],[5.87,1.45],[5.9,0.12],[6.0,0.25],[6.1,0.83],[6.15,0.05],[6.2,0.15],[6.3,0.35],[6.4,0.08],[6.5,0.2],[6.6,0.02],[6.7,0.12],[6.8,0.3],[6.9,0.05],[7.0,0.18],[7.1,0.1],[7.2,0.45],[7.3,0.02],[7.4,0.22],[7.5,0.08],[7.6,0.15],[7.7,0.05],[7.8,0.25],[7.9,0.1],[7.95,0.02],[6.35,0.12],[6.55,0.05],[6.75,0.08],[6.95,0.1],[7.15,0.04],[7.35,0.1],[7.55,0.03],[7.75,0.12],[0.08,0.88],[0.26,1.32],[0.44,1.0],[0.64,0.85],[0.84,1.02],[1.06,1.08],[1.26,0.7],[1.46,0.8],[1.66,1.12],[1.86,0.92],
  [0.05,1.2],[0.15,0.55],[0.24,0.8],[0.34,1.1],[0.46,0.7],[0.56,1.3],[0.66,0.95],[0.76,1.25],[0.86,0.75],[0.96,1.15],[1.04,0.85],[1.16,0.6],[1.24,1.05],[1.36,0.55],[1.48,1.1],[1.58,0.7],[1.68,0.5],[1.78,0.85],[1.88,0.45],[1.98,0.7],[2.08,0.55],[2.18,0.8],[2.28,0.5],[2.38,0.35],[2.48,0.55],[2.58,0.4],[2.68,0.25],[2.78,0.45],[2.88,0.2],[2.98,0.35],[3.12,0.3],[3.28,0.2],[3.45,0.35],[3.65,0.15],[3.85,0.3],[4.05,0.05],[4.35,0.2],[4.65,0.1],[4.85,0.2],[5.05,0.15],[5.25,0.1],[5.45,0.05],[5.65,0.2],[5.85,0.15],[6.05,0.05],[6.25,0.1],[6.45,0.15],[6.65,0.05],[6.85,0.2],[7.05,0.05],[7.25,0.12],[7.45,0.15],[7.65,0.1],[7.85,0.05]];

const obsBySite = [obsICS, obsATQ, obsICH, obsBES, obsICT, obsBEO, obsIVO, obsCMDL];
const tvprmBySite = [tvprmICS, tvprmATQ, tvprmICH, tvprmBES, tvprmICT, tvprmBEO, tvprmIVO, tvprmCMDL];

// ---- panel layout (pixels) ----
const FONT = '"Liberation Sans", Arial, Helvetica, sans-serif';
const colLeft = [53, 303];
const colWidth = [170, 171];
const rowTop = [82.3, 289, 495, 703.3];
const pxPerUnit = 86.8;
const INK = '#1a1a1a';

const grids = [], xAxes = [], yAxes = [], series = [], graphics = [];

siteNames.forEach((name, i) => {
  const row = Math.floor(i / 2), col = i % 2;
  const yMin = rowFluxMin[row];
  const left = colLeft[col], top = rowTop[row];
  const width = colWidth[col], height = (fluxMax - yMin) * pxPerUnit;

  grids.push({ left, top, width, height, containLabel: false });

  xAxes.push({
    gridIndex: i, type: 'value', min: 0, max: 8, interval: 2,
    axisLine: { show: true, onZero: false, lineStyle: { color: '#000', width: 1.3 } },
    axisTick: { show: true, length: 5, lineStyle: { color: '#000', width: 1.3 } },
    axisLabel: {
      show: true, margin: 16, fontSize: 20, color: INK, fontFamily: FONT,
      showMinLabel: true, showMaxLabel: true,
      formatter: v => monthLabels[monthTicks.indexOf(v)] || ''
    },
    splitLine: { show: true, lineStyle: { color: '#ebebeb', width: 1 } }
  });

  yAxes.push({
    gridIndex: i, type: 'value', min: yMin, max: fluxMax, splitNumber: 3,
    axisLine: { show: true, onZero: false, lineStyle: { color: '#000', width: 1.3 } },
    axisTick: { show: true, length: 5, customValues: fluxTicks, lineStyle: { color: '#000', width: 1.3 } },
    axisLabel: {
      show: true, margin: 8, fontSize: 20, color: INK, fontFamily: FONT,
      customValues: fluxTicks, formatter: v => v.toFixed(1)
    },
    splitLine: { show: true, lineStyle: { color: '#ebebeb', width: 1 } }
  });

  series.push({
    type: 'scatter', xAxisIndex: i, yAxisIndex: i, data: obsBySite[i],
    symbol: 'circle', symbolSize: 6.5, silent: true, z: 1,
    itemStyle: { color: 'rgba(115,115,115,0.52)', borderWidth: 0 }
  });

  tvprmBySite[i].forEach(vals => {
    series.push({
      type: 'line', xAxisIndex: i, yAxisIndex: i,
      data: lineMonths.map((m, k) => [m, vals[k]]),
      symbol: 'none', showSymbol: false, silent: true, z: 2,
      lineStyle: { color: siteColors[i], width: 1.6 }
    });
  });

  // site name in the upper right of each panel
  graphics.push({
    type: 'text', x: left + width - 11, y: top + 26.5, silent: true, z: 100,
    style: {
      text: name, fill: INK, font: '23px ' + FONT,
      align: 'right', verticalAlign: 'middle', textAlign: 'right', textVerticalAlign: 'middle'
    }
  });
});

// title and units
graphics.push({
  type: 'text', x: 249, y: 25, silent: true, z: 100,
  style: {
    text: '{t|Daily Mean Net CO}{s|2}{t| Flux}',
    align: 'center', verticalAlign: 'middle', textAlign: 'center', textVerticalAlign: 'middle',
    rich: {
      t: { fontSize: 27.5, fontWeight: 'bold', fontFamily: FONT, fill: '#000', lineHeight: 35 },
      s: { fontSize: 18, fontWeight: 'bold', fontFamily: FONT, fill: '#000', verticalAlign: 'bottom' }
    }
  }
});
graphics.push({
  type: 'text', x: 260, y: 61, silent: true, z: 100,
  style: {
    text: '{t|[μmol m}{p|−2}{t| s}{p|−1}{t|]}',
    align: 'center', verticalAlign: 'middle', textAlign: 'center', textVerticalAlign: 'middle',
    rich: {
      t: { fontSize: 24, fontFamily: FONT, fill: INK, lineHeight: 24 },
      p: { fontSize: 16, fontFamily: FONT, fill: INK, verticalAlign: 'top' }
    }
  }
});

// key
graphics.push({
  type: 'line', silent: true, z: 100,
  shape: { x1: 66, y1: 913, x2: 101, y2: 913 },
  style: { stroke: '#000', lineWidth: 2 }
});
graphics.push({
  type: 'text', x: 108, y: 927, silent: true, z: 100,
  style: {
    text: 'Median TVPRM\nUnconstrained', fill: INK, font: '21px ' + FONT, lineHeight: 27,
    align: 'left', verticalAlign: 'middle', textAlign: 'left', textVerticalAlign: 'middle'
  }
});
graphics.push({
  type: 'circle', silent: true, z: 100,
  shape: { cx: 320, cy: 913, r: 3.5 },
  style: { fill: '#cfcfcf' }
});
graphics.push({
  type: 'text', x: 332, y: 927, silent: true, z: 100,
  style: {
    text: 'Site-level\nObservations', fill: INK, font: '21px ' + FONT, lineHeight: 27,
    align: 'left', verticalAlign: 'middle', textAlign: 'left', textVerticalAlign: 'middle'
  }
});

const chart = echarts.init(document.getElementById('chart'), null, { renderer: 'canvas' });
chart.setOption({
  animation: false,
  backgroundColor: '#ffffff',
  grid: grids,
  xAxis: xAxes,
  yAxis: yAxes,
  series: series,
  graphic: { elements: graphics }
});
</script>
</body>
</html>
